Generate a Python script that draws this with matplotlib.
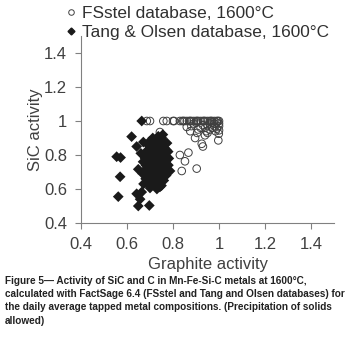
import matplotlib
matplotlib.use("Agg")
import matplotlib.pyplot as plt
from matplotlib.lines import Line2D

# FSstel database (open circles)
fs_x = [0.686, 0.700, 0.758, 0.773, 0.800, 0.805, 0.830, 0.840, 0.845, 0.850, 0.860, 0.870,
        0.875, 0.880, 0.890, 0.900, 0.905, 0.910, 0.920, 0.930, 0.935, 0.940, 0.950, 0.960,
        0.965, 0.970, 0.980, 0.990, 0.995, 1.000,
        0.743, 0.830, 0.867, 0.852, 0.838, 0.903, 0.896, 0.925, 0.930, 0.997, 0.999, 0.939,
        0.950, 0.960, 0.970, 0.980, 0.990, 1.000, 1.000, 0.910, 0.920, 0.930, 0.940, 0.950,
        0.960, 0.970, 0.980, 0.880, 0.890, 0.900, 0.990, 1.000, 0.985, 0.945, 0.905, 0.875,
        0.860]
fs_y = [1.000, 1.000, 1.000, 1.000, 1.000, 1.000, 1.000, 1.000, 1.000, 1.000, 1.000, 1.000,
        1.000, 1.000, 1.000, 1.000, 1.000, 1.000, 1.000, 1.000, 1.000, 1.000, 1.000, 1.000,
        1.000, 1.000, 1.000, 1.000, 1.000, 1.000,
        0.935, 0.800, 0.814, 0.763, 0.706, 0.720, 0.900, 0.866, 0.850, 0.886, 0.925, 0.916,
        0.930, 0.950, 0.960, 0.970, 0.955, 0.970, 0.985, 0.950, 0.960, 0.975, 0.960, 0.975,
        0.985, 0.990, 0.985, 0.970, 0.985, 0.990, 0.990, 0.945, 0.940, 0.940, 0.930, 0.940,
        0.965]

# Tang & Olsen database (filled diamonds)
to_x = [0.555, 0.572, 0.570, 0.562, 0.620, 0.642, 0.664, 0.657, 0.649, 0.697, 0.664, 0.642,
        0.660, 0.649, 0.787, 0.743, 0.700, 0.671,
        0.680, 0.682, 0.679, 0.681, 0.684, 0.683,
        0.690, 0.692, 0.689, 0.693, 0.691, 0.694,
        0.700, 0.702, 0.699, 0.703, 0.701, 0.704, 0.698, 0.705,
        0.710, 0.712, 0.709, 0.713, 0.711, 0.714, 0.708, 0.715, 0.712,
        0.720, 0.722, 0.719, 0.723, 0.721, 0.724, 0.718, 0.725, 0.722, 0.726,
        0.730, 0.732, 0.729, 0.733, 0.731, 0.734, 0.728, 0.735, 0.732, 0.736,
        0.740, 0.742, 0.739, 0.743, 0.741, 0.744, 0.738, 0.745, 0.742,
        0.750, 0.752, 0.749, 0.753, 0.751, 0.754, 0.748, 0.755, 0.752, 0.756,
        0.760, 0.762, 0.759, 0.763, 0.761, 0.764, 0.758,
        0.770, 0.772, 0.769, 0.773, 0.771, 0.774,
        0.780, 0.782, 0.779,
        0.670, 0.668, 0.672]
to_y = [0.790, 0.785, 0.672, 0.555, 0.908, 0.572, 0.582, 0.540, 0.500, 0.503, 1.000, 0.850,
        0.810, 0.716, 0.706, 0.612, 0.606, 0.876,
        0.700, 0.740, 0.780, 0.660, 0.720, 0.820,
        0.680, 0.750, 0.640, 0.800, 0.860, 0.710,
        0.620, 0.660, 0.700, 0.730, 0.770, 0.840, 0.880, 0.680,
        0.640, 0.670, 0.690, 0.720, 0.750, 0.790, 0.820, 0.860, 0.900,
        0.630, 0.660, 0.680, 0.700, 0.730, 0.760, 0.780, 0.810, 0.840, 0.870,
        0.600, 0.650, 0.680, 0.710, 0.740, 0.770, 0.800, 0.830, 0.880, 0.910,
        0.640, 0.670, 0.700, 0.720, 0.750, 0.790, 0.820, 0.850, 0.890,
        0.620, 0.660, 0.690, 0.730, 0.760, 0.780, 0.810, 0.860, 0.900, 0.920,
        0.650, 0.700, 0.740, 0.770, 0.800, 0.840, 0.880,
        0.680, 0.720, 0.760, 0.790, 0.830, 0.870,
        0.740, 0.780, 0.820,
        0.760, 0.690, 0.630]

ticks = [0.4, 0.6, 0.8, 1.0, 1.2, 1.4]
tick_labels = ["0.4", "0.6", "0.8", "1", "1.2", "1.4"]

caption = ("Figure 5\u2014 Activity of SiC and C in Mn-Fe-Si-C metals at 1600\u00b0C,\n"
           "calculated with FactSage 6.4 (FSstel and Tang and Olsen databases) for\n"
           "the daily average tapped metal compositions. (Precipitation of solids\n"
           "allowed)")

plt.rcParams['font.family'] = ['Liberation Sans', 'DejaVu Sans']

fig = plt.figure(figsize=(3.59, 3.55), dpi=100)
ax = fig.add_axes([81/359, 1-223/355, (334-81)/359, (223-36)/355])

ax.scatter(fs_x, fs_y, s=30, facecolors='none', edgecolors='#404040', linewidths=0.7, zorder=2)
ax.scatter(to_x, to_y, s=30, marker='D', color='#1a1a1a', edgecolors='none', zorder=3)

ax.set_xlim(0.4, 1.5)
ax.set_ylim(0.4, 1.5)
ax.set_xticks(ticks)
ax.set_xticklabels(tick_labels)
ax.set_yticks(ticks)
ax.set_yticklabels(tick_labels)
for s in ['top', 'right']:
    ax.spines[s].set_visible(False)
for s in ['left', 'bottom']:
    ax.spines[s].set_color('#808080')
    ax.spines[s].set_linewidth(0.8)
ax.tick_params(colors='#808080', labelcolor='#404040', labelsize=12, length=4, width=0.8, pad=6)
ax.set_xlabel("Graphite activity", fontsize=12, color='#404040', labelpad=4)
ax.set_ylabel("SiC activity", fontsize=12, color='#404040', labelpad=1)

handles = [Line2D([], [], marker='o', linestyle='none', markerfacecolor='none',
                  markeredgecolor='#404040', markersize=4, markeredgewidth=0.7),
           Line2D([], [], marker='D', linestyle='none', color='#1a1a1a', markersize=3.5)]
fig.legend(handles, ["FSstel database, 1600\u00b0C", "Tang & Olsen database, 1600\u00b0C"],
           loc='upper left', bbox_to_anchor=(67/359, 1-6/355), frameon=False,
           fontsize=12.4, handlelength=0.5, handletextpad=0.4, labelspacing=0.25,
           borderpad=0, borderaxespad=0, labelcolor='#303030')

fig.text(5/359, 1-276/355, caption, fontsize=7.2, fontweight='bold', va='top', ha='left',
         color='#222222', linespacing=1.4,
         family=['Liberation Sans Narrow', 'Liberation Sans', 'DejaVu Sans'])

fig.savefig("out.png", dpi=100)
